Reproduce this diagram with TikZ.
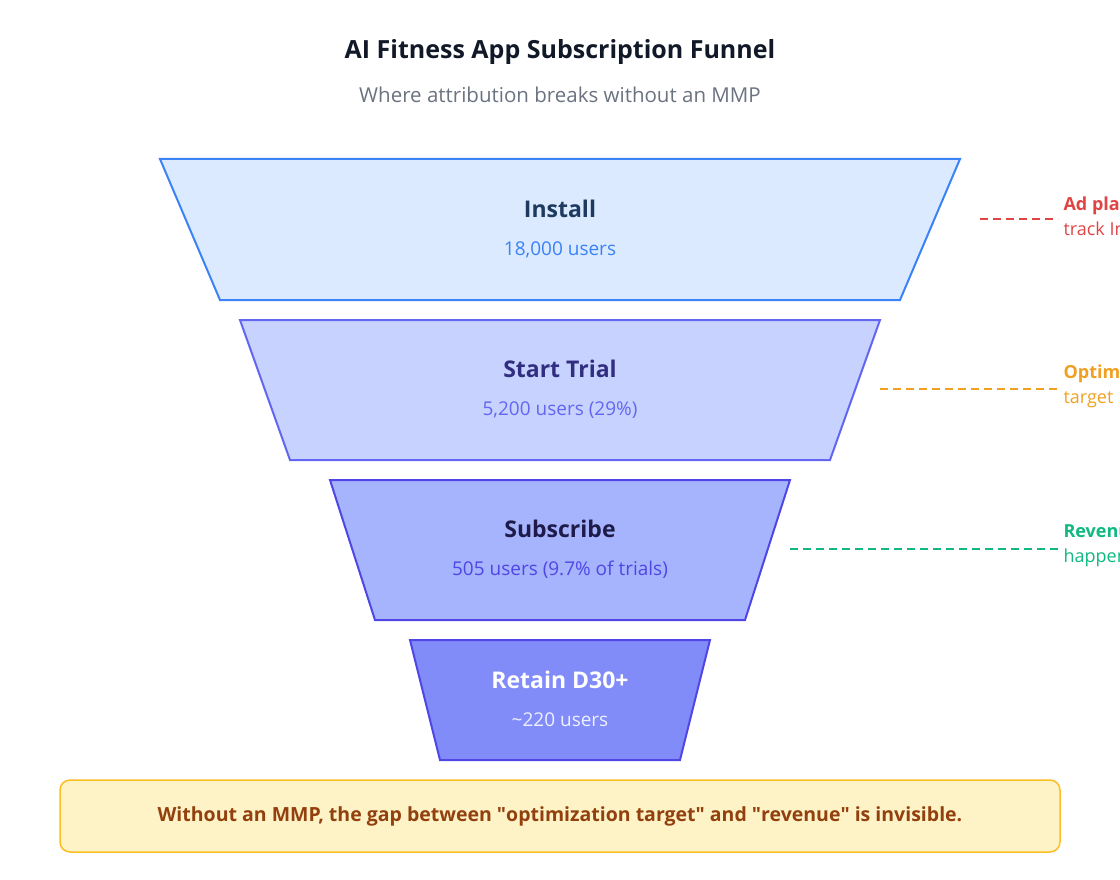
\documentclass[tikz,border=0pt]{standalone}
\usepackage{fontspec}
\setmainfont{Open Sans}
\begin{document}
\begin{tikzpicture}[x=1pt,y=-1pt,
  stage/.style={line width=2pt,line join=miter},
  ttl/.style={font=\fontsize{23}{28}\selectfont\bfseries},
  subt/.style={font=\fontsize{19}{24}\selectfont},
  note/.style={anchor=west,align=left,font=\fontsize{18}{25}\selectfont},
  leader/.style={line width=2.5pt,dash pattern=on 8pt off 5pt}]
\definecolor{b1f}{HTML}{DBEAFE}\definecolor{b1s}{HTML}{3B82F6}
\definecolor{b2f}{HTML}{C7D2FE}\definecolor{b2s}{HTML}{6366F1}
\definecolor{b3f}{HTML}{A5B4FC}\definecolor{b3s}{HTML}{4F46E5}
\definecolor{b4f}{HTML}{818CF8}
\definecolor{t1}{HTML}{1E3A5F}\definecolor{t2}{HTML}{312E81}
\definecolor{t3}{HTML}{1E1B4B}\definecolor{t4}{HTML}{EEF0FF}
\definecolor{ink}{HTML}{111827}\definecolor{grey}{HTML}{6B7280}
\definecolor{red}{HTML}{E04545}\definecolor{orng}{HTML}{F0A020}\definecolor{grn}{HTML}{10B981}
\definecolor{ftf}{HTML}{FEF3C7}\definecolor{fts}{HTML}{FBBF24}\definecolor{ftt}{HTML}{92400E}
\useasboundingbox (0,0) rectangle (1120,880);
\clip (0,0) rectangle (1120,880);
\node[font=\fontsize{25}{30}\selectfont\bfseries,text=ink] (title) at (560,52) {AI Fitness App Subscription Funnel};
\node[font=\fontsize{20.5}{24}\selectfont,text=grey] (sub) at (560,95) {Where attribution breaks without an MMP};
\draw[stage,fill=b1f,draw=b1s] (160,159) -- (960,159) -- (900,300) -- (220,300) -- cycle;
\draw[stage,fill=b2f,draw=b2s] (240,320) -- (880,320) -- (830,460) -- (290,460) -- cycle;
\draw[stage,fill=b3f,draw=b3s] (330,480) -- (790,480) -- (745,620) -- (375,620) -- cycle;
\draw[stage,fill=b4f,draw=b3s] (410,640) -- (710,640) -- (680,760) -- (440,760) -- cycle;
\node[ttl,text=t1] (s1) at (560,209) {Install};
\node[subt,text=b1s] (s1n) at (560,250) {18,000 users};
\node[ttl,text=t2] (s2) at (560,369) {Start Trial};
\node[subt,text=b2s] (s2n) at (560,410) {5,200 users (29\%)};
\node[ttl,text=t3] (s3) at (560,529) {Subscribe};
\node[subt,text=b3s] (s3n) at (560,570) {505 users (9.7\% of trials)};
\node[ttl,text=white] (s4) at (560,680) {Retain D30+};
\node[subt,text=t4] (s4n) at (560,720) {\textasciitilde220 users};
\coordinate (r1) at (980,219); \coordinate (r2) at (1058,219);
\coordinate (o1) at (880,389); \coordinate (o2) at (1058,389);
\coordinate (g1) at (790,549); \coordinate (g2) at (1058,549);
\draw[leader,draw=red] (r1) -- (r2);
\draw[leader,draw=orng] (o1) -- (o2);
\draw[leader,draw=grn] (g1) -- (g2);
\node[note,text=red] (n1) at (1060,216) {\textbf{Ad platforms}\\track Install};
\node[note,text=orng] (n2) at (1060,386) {\textbf{Optimization}\\target};
\node[note,text=grn] (n3) at (1060,546) {\textbf{Revenue}\\happens here};
\draw[line width=1.5pt,draw=fts,fill=ftf,rounded corners=10pt] (60,780) rectangle (1060,852);
\node[font=\fontsize{19.5}{24}\selectfont\bfseries,text=ftt] (foot) at (560,816) {Without an MMP, the gap between \textquotedbl optimization target\textquotedbl{} and \textquotedbl revenue\textquotedbl{} is invisible.};
\end{tikzpicture}
\end{document}
